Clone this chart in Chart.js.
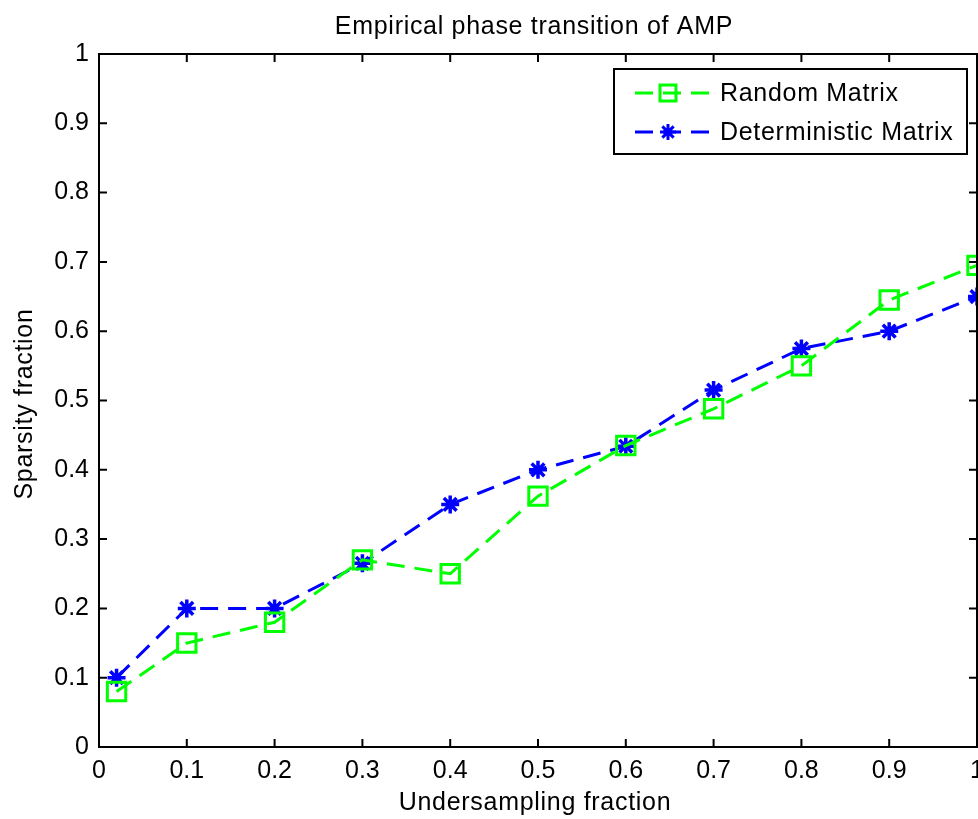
<!DOCTYPE html>
<html>
<head>
<meta charset="utf-8">
<script src="https://cdn.jsdelivr.net/npm/chart.js@4/dist/chart.umd.min.js"></script>
<style>
  body { margin: 0; background: #fff; }
  canvas { display: block; }
</style>
</head>
<body>
<canvas id="chart" width="978" height="819"></canvas>
<script>
// values
const undersampling = [0.02, 0.1, 0.2, 0.3, 0.4, 0.5, 0.6, 0.7, 0.8, 0.9, 1.0];
const randomMatrix = [0.08, 0.15, 0.18, 0.27, 0.25, 0.362, 0.435, 0.488, 0.55, 0.645, 0.695];
const deterministicMatrix = [0.10, 0.20, 0.20, 0.265, 0.35, 0.40, 0.434, 0.515, 0.575, 0.60, 0.65];
const seriesLabels = ['Random Matrix', 'Deterministic Matrix'];
const chartTitle = 'Empirical phase transition of AMP';
const xTitle = 'Undersampling fraction';
const yTitle = 'Sparsity fraction';

const FONT = '"Liberation Sans", Arial, sans-serif';
const FONT_SIZE = 25;
const GREEN = '#00ff00';
const BLUE = '#0000ff';

function toPoints(xs, ys) {
  return xs.map((x, i) => ({x: x, y: ys[i]}));
}

// 0, 0.1 ... 1 like matlab (no trailing .0)
function tickText(value) {
  return String(+value.toFixed(1));
}

// matlab-style box, inward ticks, title, axis labels, legend
const matlabFrame = {
  id: 'matlabFrame',
  afterDraw(chart) {
    const ctx = chart.ctx;
    const a = chart.chartArea;
    const xs = chart.scales.x;
    const ys = chart.scales.y;
    ctx.save();
    ctx.strokeStyle = '#000';
    ctx.lineWidth = 2;
    ctx.strokeRect(a.left, a.top, a.right - a.left, a.bottom - a.top);

    // inward ticks
    const tl = 8;
    ctx.beginPath();
    xs.ticks.forEach(t => {
      const px = xs.getPixelForValue(t.value);
      ctx.moveTo(px, a.bottom); ctx.lineTo(px, a.bottom - tl);
      ctx.moveTo(px, a.top); ctx.lineTo(px, a.top + tl);
    });
    ys.ticks.forEach(t => {
      const py = ys.getPixelForValue(t.value);
      ctx.moveTo(a.left, py); ctx.lineTo(a.left + tl, py);
      ctx.moveTo(a.right, py); ctx.lineTo(a.right - tl, py);
    });
    ctx.stroke();

    // title and axis titles
    ctx.fillStyle = '#000';
    ctx.font = FONT_SIZE + 'px ' + FONT;
    ctx.letterSpacing = '0.7px';
    ctx.textAlign = 'center';
    ctx.textBaseline = 'middle';
    ctx.fillText(chartTitle, 534, 27);
    ctx.fillText(xTitle, 535, 803);
    ctx.save();
    ctx.translate(25, 404);
    ctx.rotate(-Math.PI / 2);
    ctx.fillText(yTitle, 0, 0);
    ctx.restore();

    // legend
    const bx = 614, by = 69, bw = 353, bh = 85;
    ctx.fillStyle = '#fff';
    ctx.fillRect(bx, by, bw, bh);
    ctx.lineWidth = 2;
    ctx.strokeRect(bx, by, bw, bh);
    const rows = [
      {label: seriesLabels[0], color: GREEN, y: 93, marker: 'square'},
      {label: seriesLabels[1], color: BLUE, y: 132, marker: 'star'},
    ];
    rows.forEach(r => {
      ctx.strokeStyle = r.color;
      ctx.lineWidth = 3;
      ctx.setLineDash([18, 10]);
      ctx.beginPath();
      ctx.moveTo(635, r.y); ctx.lineTo(712, r.y);
      ctx.stroke();
      ctx.setLineDash([]);
      ctx.lineWidth = 3;
      if (r.marker === 'square') {
        ctx.strokeRect(668 - 8, r.y - 8, 16, 16);
      } else {
        ctx.beginPath();
        for (let k = 0; k < 4; k++) {
          const ang = k * Math.PI / 4;
          ctx.moveTo(668 - 8 * Math.cos(ang), r.y - 8 * Math.sin(ang));
          ctx.lineTo(668 + 8 * Math.cos(ang), r.y + 8 * Math.sin(ang));
        }
        ctx.stroke();
      }
      ctx.fillStyle = '#000';
      ctx.textAlign = 'left';
      ctx.fillText(r.label, 720, r.y + 1);
    });
    ctx.restore();
  }
};

new Chart(document.getElementById('chart'), {
  type: 'line',
  data: {
    datasets: [
      {
        label: seriesLabels[0],
        data: toPoints(undersampling, randomMatrix),
        borderColor: GREEN,
        backgroundColor: 'rgba(0,0,0,0)',
        borderWidth: 3,
        borderDash: [18, 10],
        pointStyle: 'rect',
        pointRadius: 13,
        pointBorderWidth: 3,
        pointBorderColor: GREEN,
        pointBackgroundColor: 'rgba(0,0,0,0)',
        tension: 0,
        clip: false,
      },
      {
        label: seriesLabels[1],
        data: toPoints(undersampling, deterministicMatrix),
        borderColor: BLUE,
        backgroundColor: 'rgba(0,0,0,0)',
        borderWidth: 3,
        borderDash: [18, 10],
        pointStyle: 'star',
        pointRadius: 9,
        pointBorderWidth: 3.5,
        pointBorderColor: BLUE,
        pointBackgroundColor: BLUE,
        tension: 0,
        clip: false,
      },
    ],
  },
  options: {
    responsive: false,
    animation: false,
    layout: {autoPadding: false, padding: {left: 0, top: 54, right: 1, bottom: 0}},
    plugins: {
      legend: {display: false},
      title: {display: false},
      tooltip: {enabled: false},
    },
    scales: {
      x: {
        type: 'linear',
        min: 0,
        max: 1,
        afterFit: s => { s.height = 72; s.paddingLeft = 0; s.paddingRight = 0; },
        grid: {drawOnChartArea: false, drawTicks: false},
        border: {display: true, color: '#000', width: 2},
        ticks: {
          stepSize: 0.1,
          padding: 9,
          color: '#000',
          font: {family: FONT, size: FONT_SIZE},
          maxRotation: 0,
          autoSkip: false,
          callback: tickText,
        },
      },
      y: {
        min: 0,
        max: 1,
        afterFit: s => { s.width = 99; s.paddingTop = 0; s.paddingBottom = 0; },
        grid: {drawOnChartArea: false, drawTicks: false},
        border: {display: true, color: '#000', width: 2},
        ticks: {
          stepSize: 0.1,
          padding: 10,
          color: '#000',
          font: {family: FONT, size: FONT_SIZE},
          callback: tickText,
        },
      },
    },
  },
  plugins: [matlabFrame],
});
</script>
</body>
</html>
